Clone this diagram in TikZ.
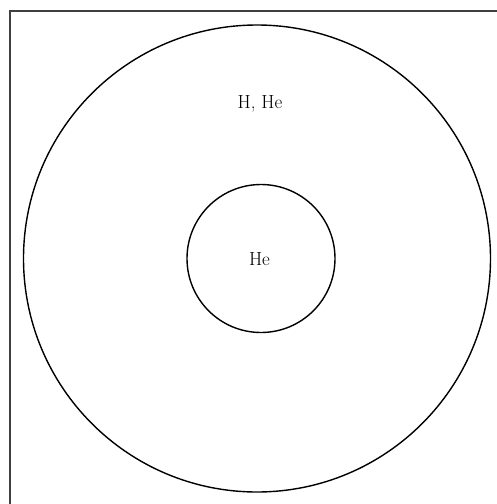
\documentclass[tikz,border=0pt]{standalone}
\begin{document}
\begin{tikzpicture}[x=1pt,y=-1pt,
  framestyle/.style={draw=black!75,line width=2pt},
  shell/.style={draw=black,line width=1.4pt,circle,minimum size=#1,inner sep=0pt},
  lbl/.style={font=\fontsize{19}{22}\selectfont,anchor=base,inner sep=0pt}]
\useasboundingbox (0,0) rectangle (496,504);
\fill[white] (0,0) rectangle (496,504);
\coordinate (fa) at (10,505);
\coordinate (fb) at (10,11);
\coordinate (fc) at (497,11);
\draw[framestyle] (fa) -- (fb) -- (fc);
\node[shell=467pt] (outer) at (257,258.5) {};
\node[shell=148pt] (inner) at (261,258.5) {};
\node[lbl] (hhe) at (260,108) {H, He};
\node[lbl] (he) at (259.5,265) {He};
\end{tikzpicture}
\end{document}
